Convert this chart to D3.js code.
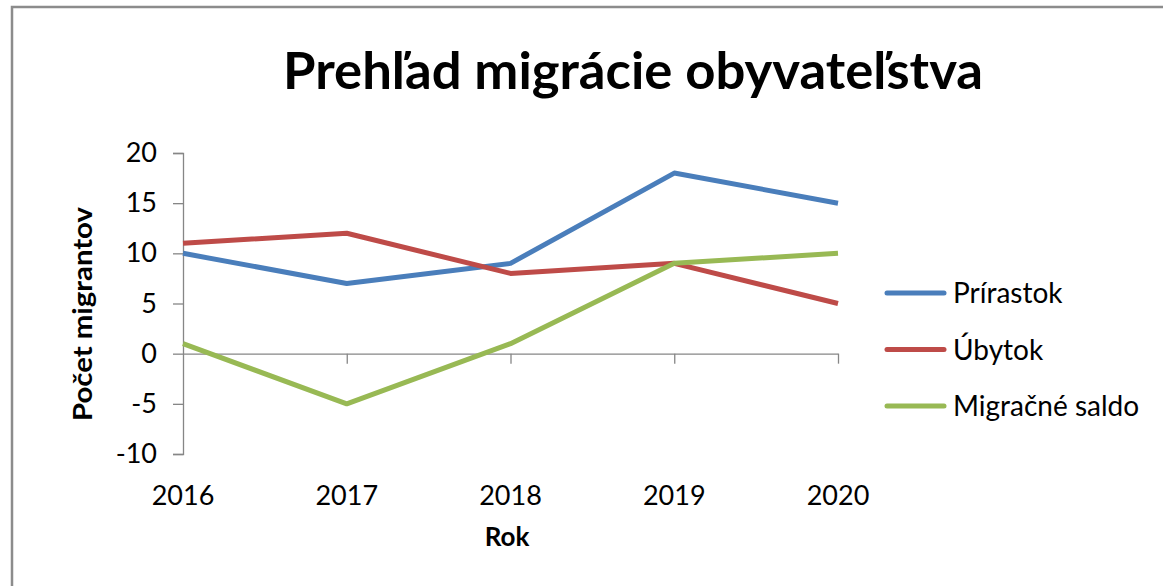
<!DOCTYPE html>
<html><head><meta charset="utf-8">
<script src="https://cdn.jsdelivr.net/npm/d3@7"></script>
<style>
html,body{margin:0;padding:0;background:#fff;}
svg{display:block;}
text{font-family:Lato,"Open Sans",sans-serif;fill:#000;}
</style></head>
<body>
<svg id="c" width="1163" height="586"></svg>
<script>
const years = ["2016","2017","2018","2019","2020"];
const prirastok = [10, 7, 9, 18, 15];
const ubytok = [11, 12, 8, 9, 5];
const saldo = [1, -5, 1, 9, 10];
const seriesNames = ["Prírastok","Úbytok","Migračné saldo"];
const yTicks = [20, 15, 10, 5, 0, -5, -10];

const series = [
  {name: seriesNames[0], values: prirastok, color: "#4A7EBB"},
  {name: seriesNames[1], values: ubytok, color: "#BE4B48"},
  {name: seriesNames[2], values: saldo, color: "#98B954"}
];

const svg = d3.select("#c");
// chart frame
svg.append("rect").attr("x",12).attr("y",7).attr("width",1200).attr("height",640)
  .attr("fill","#fff").attr("stroke","#8c8c8c").attr("stroke-width",2.5);

const x = d3.scalePoint().domain(years).range([183, 838]);
const y = d3.scaleLinear().domain([-10, 20]).range([454, 153]);

// title
svg.append("text").attr("x",633).attr("y",89).attr("text-anchor","middle")
  .attr("font-size",51).attr("font-weight",700)
  .attr("textLength",700).attr("lengthAdjust","spacingAndGlyphs")
  .text("Prehľad migrácie obyvateľstva");

// y axis
const yAxis = d3.axisLeft(y).tickValues(yTicks).tickSize(10).tickPadding(16)
  .tickFormat(d => d);
const gy = svg.append("g").attr("transform","translate(183,0)").call(yAxis);
gy.select(".domain").attr("stroke","#868686").attr("stroke-width",1.3);
gy.selectAll(".tick line").attr("stroke","#868686").attr("stroke-width",1.3);
gy.selectAll(".tick text").attr("font-size",27).attr("font-family","Lato, sans-serif").attr("fill","#000")
  .attr("x",-26);

// x axis at y=0
const xAxis = d3.axisBottom(x).tickSize(10).tickSizeOuter(0).tickFormat("");
const gx = svg.append("g").attr("transform",`translate(0,${y(0)})`).call(xAxis);
gx.select(".domain").attr("stroke","#868686").attr("stroke-width",1.3);
gx.selectAll(".tick line").attr("stroke","#868686").attr("stroke-width",1.3);
gx.selectAll(".tick").filter(d => d === years[0]).select("line").remove();

// category labels at bottom
svg.append("g").selectAll("text").data(years).join("text")
  .attr("x", d => x(d)).attr("y", 505).attr("text-anchor","middle")
  .attr("font-size",27).text(d => d);

// axis titles
svg.append("text").attr("x",507).attr("y",546).attr("text-anchor","middle")
  .attr("font-size",26).attr("font-weight",700).text("Rok");
svg.append("text").attr("transform","translate(92,314) rotate(-90)")
  .attr("text-anchor","middle").attr("font-size",26).attr("font-weight",700)
  .attr("textLength",214).attr("lengthAdjust","spacingAndGlyphs")
  .text("Počet migrantov");

// lines
const line = d3.line().x((d,i) => x(years[i])).y(d => y(d));
svg.append("g").selectAll("path").data(series).join("path")
  .attr("d", d => line(d.values)).attr("fill","none")
  .attr("stroke", d => d.color).attr("stroke-width",5)
  .attr("stroke-linejoin","round").attr("stroke-linecap","butt");

// legend
const legY = d3.scalePoint().domain(seriesNames).range([293, 406]);
const leg = svg.append("g").selectAll("g").data(series).join("g")
  .attr("transform", d => `translate(0,${legY(d.name)})`);
leg.append("line").attr("x1",887).attr("x2",944).attr("y1",0).attr("y2",0)
  .attr("stroke", d => d.color).attr("stroke-width",5).attr("stroke-linecap","round");
leg.append("text").attr("x",953).attr("y",0).attr("dy","0.36em")
  .attr("font-size",28).text(d => d.name);
</script>
</body></html>
